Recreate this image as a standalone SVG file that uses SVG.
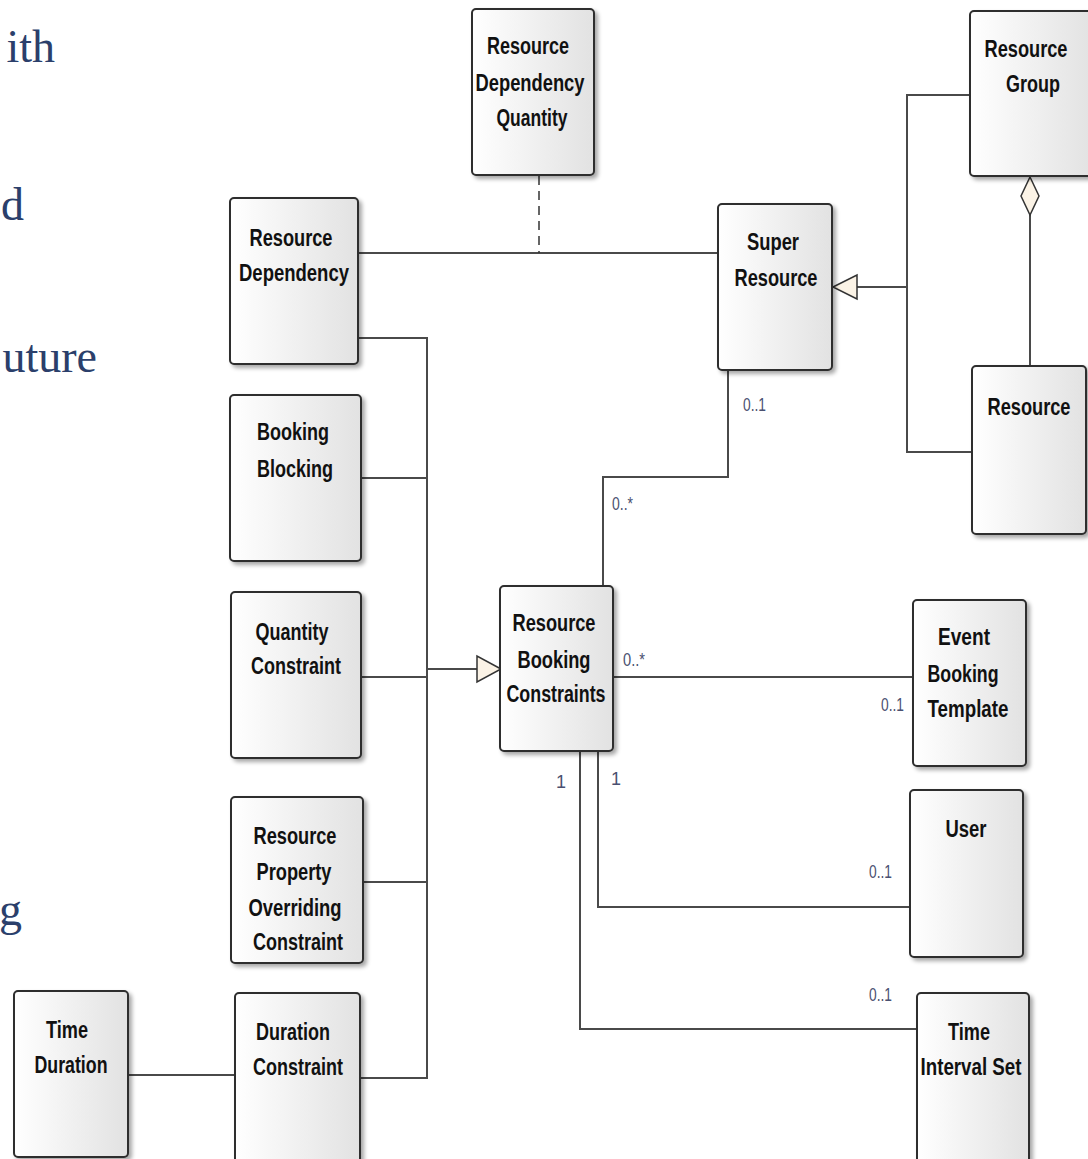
<svg xmlns="http://www.w3.org/2000/svg" width="1088" height="1159" viewBox="0 0 1088 1159">
  <defs>
    <linearGradient id="boxFill" x1="0" y1="0" x2="1" y2="0">
      <stop offset="0" stop-color="#ffffff"/>
      <stop offset="1" stop-color="#e2e2e2"/>
    </linearGradient>
    <filter id="shadow" x="-10%" y="-10%" width="130%" height="130%">
      <feGaussianBlur in="SourceAlpha" stdDeviation="2"/>
      <feOffset dx="3" dy="3" result="b"/>
      <feComponentTransfer><feFuncA type="linear" slope="0.35"/></feComponentTransfer>
      <feMerge><feMergeNode/><feMergeNode in="SourceGraphic"/></feMerge>
    </filter>
  </defs>
  <style>
    .box { fill: url(#boxFill); stroke: #2e2e2e; stroke-width: 2; filter: url(#shadow); }
    .lbl { font-family: "Liberation Sans Narrow", "Liberation Sans", Arial, sans-serif; font-weight: bold; font-size: 23px; fill: #111; text-anchor: middle; }
    .mult { font-family: "Liberation Sans Narrow", "Liberation Sans", sans-serif; font-size: 18px; fill: #4a5070; }
    .line { fill: none; stroke: #4a4a4a; stroke-width: 2; }
    .dash { fill: none; stroke: #333; stroke-width: 1.5; stroke-dasharray: 9 6; }
    .head { fill: #fbf3e6; stroke: #333; stroke-width: 1.5; }
    .page { font-family: "Liberation Serif", "DejaVu Serif", serif; font-size: 46px; fill: #2b3f6b; text-anchor: end; }
  </style>

  <!-- slide text partly covered by the diagram -->
  <g id="page-text">
    <text class="page" x="55" y="62">ith</text>
    <text class="page" x="24" y="220">d</text>
    <text class="page" x="97" y="372">uture</text>
    <text class="page" x="22" y="925">g</text>
  </g>

  <!-- connectors -->
  <g id="connectors">
    <!-- Resource Dependency - Super Resource, with association class link -->
    <path class="line" d="M358 253 H718"/>
    <path class="dash" d="M539 176 V253"/>
    <!-- generalisation tree into Super Resource -->
    <path class="line" d="M970 95 H907 V452 H972"/>
    <path class="line" d="M907 287 H857"/>
    <polygon class="head" points="833,287 857,275 857,299"/>
    <!-- aggregation Resource Group <> Resource -->
    <path class="line" d="M1030 214 V366"/>
    <polygon class="head" points="1030,177 1039,196 1030,215 1021,196"/>
    <!-- Super Resource - Resource Booking Constraints -->
    <path class="line" d="M728 370 V477 H603 V586"/>
    <!-- generalisation bus into Resource Booking Constraints -->
    <path class="line" d="M358 338 H427 V1078 H360"/>
    <path class="line" d="M361 478 H427"/>
    <path class="line" d="M361 677 H427"/>
    <path class="line" d="M363 882 H427"/>
    <path class="line" d="M427 669 H477"/>
    <polygon class="head" points="501,669 477,656 477,682"/>
    <!-- associations from Resource Booking Constraints -->
    <path class="line" d="M613 677 H913"/>
    <path class="line" d="M598 751 V907 H910"/>
    <path class="line" d="M580 751 V1029 H917"/>
    <!-- Time Duration - Duration Constraint -->
    <path class="line" d="M128 1075 H235"/>

    <!-- multiplicities -->
    <text class="mult" x="743" y="411" textLength="23" lengthAdjust="spacingAndGlyphs">0..1</text>
    <text class="mult" x="612" y="510" textLength="21" lengthAdjust="spacingAndGlyphs">0..*</text>
    <text class="mult" x="623" y="666" textLength="22" lengthAdjust="spacingAndGlyphs">0..*</text>
    <text class="mult" x="881" y="711" textLength="23" lengthAdjust="spacingAndGlyphs">0..1</text>
    <text class="mult" x="556" y="788">1</text>
    <text class="mult" x="611" y="785">1</text>
    <text class="mult" x="869" y="878" textLength="23" lengthAdjust="spacingAndGlyphs">0..1</text>
    <text class="mult" x="869" y="1001" textLength="23" lengthAdjust="spacingAndGlyphs">0..1</text>
  </g>

  <g id="resource-dependency-quantity">
    <rect class="box" x="472" y="9" width="122" height="166" rx="4"/>
    <text class="lbl" x="528" y="54" textLength="82" lengthAdjust="spacingAndGlyphs">Resource</text>
    <text class="lbl" x="530" y="91" textLength="109" lengthAdjust="spacingAndGlyphs">Dependency</text>
    <text class="lbl" x="532" y="126" textLength="71" lengthAdjust="spacingAndGlyphs">Quantity</text>
  </g>

  <g id="resource-group">
    <rect class="box" x="970" y="11" width="124" height="165" rx="4"/>
    <text class="lbl" x="1026" y="57" textLength="83" lengthAdjust="spacingAndGlyphs">Resource</text>
    <text class="lbl" x="1033" y="92" textLength="54" lengthAdjust="spacingAndGlyphs">Group</text>
  </g>

  <g id="resource-dependency">
    <rect class="box" x="230" y="198" width="128" height="166" rx="4"/>
    <text class="lbl" x="291" y="246" textLength="83" lengthAdjust="spacingAndGlyphs">Resource</text>
    <text class="lbl" x="294" y="281" textLength="110" lengthAdjust="spacingAndGlyphs">Dependency</text>
  </g>

  <g id="super-resource">
    <rect class="box" x="718" y="204" width="114" height="166" rx="4"/>
    <text class="lbl" x="773" y="250" textLength="52" lengthAdjust="spacingAndGlyphs">Super</text>
    <text class="lbl" x="776" y="286" textLength="83" lengthAdjust="spacingAndGlyphs">Resource</text>
  </g>

  <g id="resource">
    <rect class="box" x="972" y="366" width="114" height="168" rx="4"/>
    <text class="lbl" x="1029" y="415" textLength="83" lengthAdjust="spacingAndGlyphs">Resource</text>
  </g>

  <g id="booking-blocking">
    <rect class="box" x="230" y="395" width="131" height="166" rx="4"/>
    <text class="lbl" x="293" y="440" textLength="72" lengthAdjust="spacingAndGlyphs">Booking</text>
    <text class="lbl" x="295" y="477" textLength="76" lengthAdjust="spacingAndGlyphs">Blocking</text>
  </g>

  <g id="quantity-constraint">
    <rect class="box" x="231" y="592" width="130" height="166" rx="4"/>
    <text class="lbl" x="292" y="640" textLength="73" lengthAdjust="spacingAndGlyphs">Quantity</text>
    <text class="lbl" x="296" y="674" textLength="90" lengthAdjust="spacingAndGlyphs">Constraint</text>
  </g>

  <g id="resource-booking-constraints">
    <rect class="box" x="500" y="586" width="113" height="165" rx="4"/>
    <text class="lbl" x="554" y="631" textLength="83" lengthAdjust="spacingAndGlyphs">Resource</text>
    <text class="lbl" x="554" y="668" textLength="73" lengthAdjust="spacingAndGlyphs">Booking</text>
    <text class="lbl" x="556" y="702" textLength="99" lengthAdjust="spacingAndGlyphs">Constraints</text>
  </g>

  <g id="event-booking-template">
    <rect class="box" x="913" y="600" width="113" height="166" rx="4"/>
    <text class="lbl" x="964" y="645" textLength="52" lengthAdjust="spacingAndGlyphs">Event</text>
    <text class="lbl" x="963" y="682" textLength="71" lengthAdjust="spacingAndGlyphs">Booking</text>
    <text class="lbl" x="968" y="717" textLength="81" lengthAdjust="spacingAndGlyphs">Template</text>
  </g>

  <g id="resource-property-overriding-constraint">
    <rect class="box" x="231" y="797" width="132" height="166" rx="4"/>
    <text class="lbl" x="295" y="844" textLength="83" lengthAdjust="spacingAndGlyphs">Resource</text>
    <text class="lbl" x="294" y="880" textLength="75" lengthAdjust="spacingAndGlyphs">Property</text>
    <text class="lbl" x="295" y="916" textLength="93" lengthAdjust="spacingAndGlyphs">Overriding</text>
    <text class="lbl" x="298" y="950" textLength="90" lengthAdjust="spacingAndGlyphs">Constraint</text>
  </g>

  <g id="user">
    <rect class="box" x="910" y="790" width="113" height="167" rx="4"/>
    <text class="lbl" x="966" y="837" textLength="41" lengthAdjust="spacingAndGlyphs">User</text>
  </g>

  <g id="time-duration">
    <rect class="box" x="14" y="991" width="114" height="166" rx="4"/>
    <text class="lbl" x="67" y="1038" textLength="42" lengthAdjust="spacingAndGlyphs">Time</text>
    <text class="lbl" x="71" y="1073" textLength="73" lengthAdjust="spacingAndGlyphs">Duration</text>
  </g>

  <g id="duration-constraint">
    <rect class="box" x="235" y="993" width="125" height="170" rx="4"/>
    <text class="lbl" x="293" y="1040" textLength="74" lengthAdjust="spacingAndGlyphs">Duration</text>
    <text class="lbl" x="298" y="1075" textLength="90" lengthAdjust="spacingAndGlyphs">Constraint</text>
  </g>

  <g id="time-interval-set">
    <rect class="box" x="917" y="993" width="112" height="170" rx="4"/>
    <text class="lbl" x="969" y="1040" textLength="42" lengthAdjust="spacingAndGlyphs">Time</text>
    <text class="lbl" x="971" y="1075" textLength="101" lengthAdjust="spacingAndGlyphs">Interval Set</text>
  </g>
</svg>
